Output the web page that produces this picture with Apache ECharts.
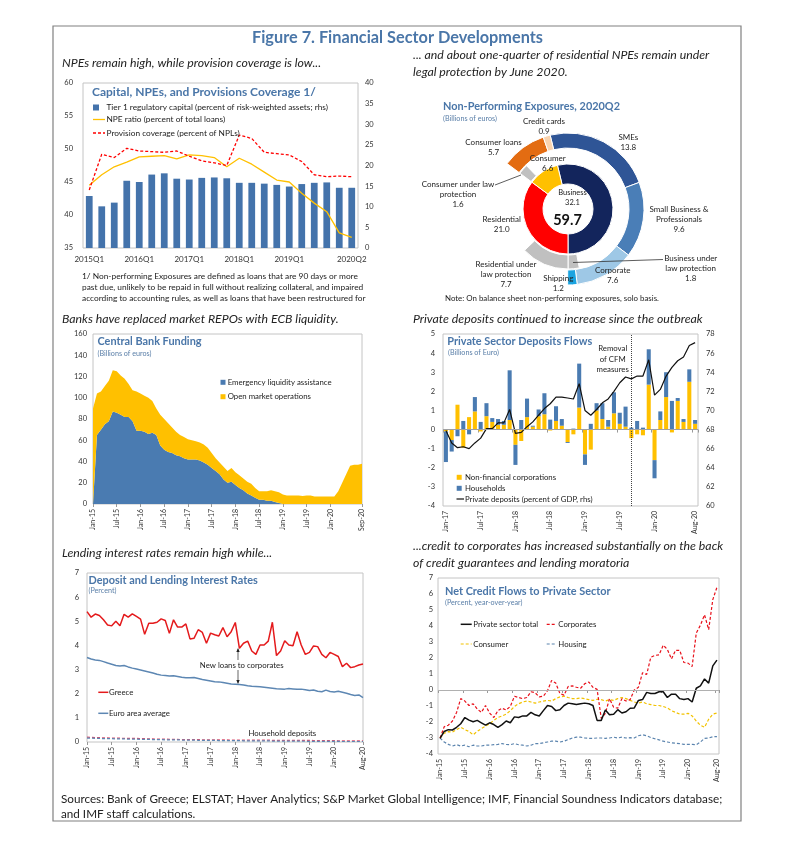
<!DOCTYPE html>
<html><head><meta charset="utf-8">
<script src="https://cdn.jsdelivr.net/npm/echarts/dist/echarts.min.js"></script>
<style>html,body{margin:0;padding:0;background:#fff}#c{width:791px;height:852px}</style>
</head><body><div id="c"></div>
<script>
// ---------- DATA ----------
const quarters = ['2015Q1','2015Q2','2015Q3','2015Q4','2016Q1','2016Q2','2016Q3','2016Q4','2017Q1','2017Q2','2017Q3','2017Q4','2018Q1','2018Q2','2018Q3','2018Q4','2019Q1','2019Q2','2019Q3','2019Q4','2020Q1','2020Q2'];
const quarterTickIdx = [0,4,8,12,16,21];
const tier1Capital = [12.6,10.1,11.0,16.3,16.0,17.8,18.1,16.8,16.6,17.0,17.1,16.9,15.8,15.8,15.6,15.3,14.9,15.5,15.8,15.9,14.6,14.6];
const npeRatio = [44.5,46.1,47.3,48.0,48.8,48.9,49.0,48.5,49.1,49.0,48.7,47.3,48.6,47.7,46.5,45.3,45.0,43.3,41.8,40.5,37.3,36.6];
const provisionCoverage = [43.8,49.2,48.7,50.1,49.7,49.6,49.5,49.7,48.9,48.2,47.9,47.5,52.1,51.6,49.5,49.3,49.1,48.1,46.1,45.8,45.9,45.8];

const npeInnerNames = ['Business','Residential','Consumer'];
const npeInnerValues = [32.1, 21.0, 6.6];
const npeTotal = 59.7;
const npeOuterNames = ['SMEs','Small Business &\nProfessionals','Corporate','Shipping','','Consumer loans','Credit cards'];
const npeOuterValues = [13.8, 9.6, 7.6, 1.2, 21.0, 5.7, 0.9];
const npeLawNames = ['Business under\nlaw protection','Residential under\nlaw protection','Consumer under law\nprotection'];
const npeLawValues = [1.8, 7.7, 1.6];

function monthLabels(y0, n){const m=['Jan','Feb','Mar','Apr','May','Jun','Jul','Aug','Sep','Oct','Nov','Dec'];const o=[];for(let i=0;i<n;i++){o.push(m[i%12]+'-'+String(y0+Math.floor(i/12)).padStart(2,'0'));}return o;}
const cbMonths = monthLabels(15, 69);
const cbTickIdx = [0,6,12,18,24,30,36,42,48,54,60,68];
const elaFunding = [0,65,70,75,78,87,86,84,82,82,78,69,69,68,66,67,65,55,51,49,48,46,45,43,42,42,42,41,39,37,34,31,28,23,20,21,18,15,13,10,8,6,4,4,3,3,2,1,0,0,0,0,0,0,0,0,0,0,0,0,0,0,0,0,0,0,0,0,0];
const omoFunding = [90,39,36,36,38,39,39,37,36,31,29,37,35,34,34,30,25,29,29,27,24,22,20,20,19,18,17,17,17,16,14,12,11,12,11,13,12,12,11,11,11,9,8,8,9,10,10,10,9,8,8,8,8,7.5,8,8,7,7,7,7,7,7,12,20,28,36,37,37,38];

const depMonths = monthLabels(17, 44);
const depTickIdx = [0,6,12,18,24,30,36,43];
const nfcFlows = [-0.1,-0.55,1.3,-0.95,0.65,0.95,-0.1,0.7,0.4,0.25,0.25,0.5,-0.8,-0.6,0.65,0.15,0.7,0.8,-0.05,0.45,0.2,-0.65,-0.25,1.15,-1.3,-1.05,1.0,0.55,0.15,0.85,0.3,0.15,-0.45,-0.25,-0.3,2.35,-1.6,0.5,1.7,-0.15,1.5,0.4,2.5,0.3];
const hhFlows = [-1.6,-0.6,-0.35,0.45,-0.25,0.75,0.4,0.68,0.2,0.3,0.2,2.6,-1.05,0.5,0.97,0.05,0.35,1.1,0.52,0.77,0.35,-0.05,0.05,2.3,-0.55,0.3,0.38,0.83,0.35,1.1,0.58,1.05,0.1,0.45,0.1,1.85,-0.95,0.45,1.3,1.5,0.15,0.15,0.65,0.2];
const depositsGDP = [67.9,66.6,66.1,66.2,66.0,66.6,67.1,68.1,68.1,68.7,68.7,70.1,67.6,67.7,68.3,68.8,69.5,70.2,70.7,71.4,71.4,71.3,71.2,72.8,70.0,69.5,70.1,70.8,71.2,72.0,72.9,73.5,73.3,73.6,73.6,75.3,71.6,72.2,73.6,74.5,75.2,75.6,76.8,77.1];
const cfmMonth = 'Sep-19';

const rateMonths = monthLabels(15, 68);
const rateTickIdx = [0,6,12,18,24,30,36,42,48,54,60,67];
const greeceLoans = [5.40,5.17,5.30,5.24,5.06,4.85,4.81,5.00,4.81,5.29,5.17,5.31,5.20,5.09,4.46,4.92,4.92,4.96,5.10,5.03,4.50,5.06,4.76,4.76,4.89,4.27,4.30,4.65,4.54,4.09,4.51,4.44,4.39,4.74,4.36,4.57,4.95,3.88,4.09,4.18,3.77,3.63,4.02,4.02,4.18,4.96,3.58,3.77,4.19,4.02,3.99,4.57,4.02,3.63,3.71,3.98,3.95,3.63,3.49,3.71,3.63,3.54,3.12,3.26,3.08,3.12,3.19,3.23];
const euroLoans = [3.50,3.44,3.40,3.38,3.33,3.27,3.22,3.17,3.15,3.17,3.11,3.06,3.02,2.98,2.94,2.90,2.86,2.81,2.77,2.75,2.73,2.74,2.71,2.68,2.66,2.66,2.67,2.63,2.59,2.56,2.53,2.50,2.49,2.46,2.43,2.40,2.39,2.38,2.36,2.33,2.31,2.30,2.29,2.27,2.25,2.23,2.21,2.20,2.19,2.22,2.20,2.18,2.19,2.16,2.13,2.15,2.10,2.08,2.15,2.09,2.07,2.10,2.06,2.02,1.97,1.93,1.95,1.84];
const greeceDeposits = [0.20,0.19,0.18,0.18,0.17,0.17,0.16,0.16,0.16,0.15,0.15,0.15,0.15,0.14,0.14,0.13,0.13,0.12,0.12,0.12,0.11,0.11,0.11,0.10,0.10,0.10,0.10,0.10,0.09,0.09,0.09,0.09,0.09,0.09,0.09,0.08,0.08,0.08,0.08,0.08,0.08,0.08,0.08,0.08,0.08,0.07,0.07,0.07,0.07,0.07,0.07,0.07,0.07,0.07,0.07,0.06,0.06,0.06,0.06,0.06,0.06,0.05,0.05,0.05,0.05,0.05,0.05,0.05];
const euroDeposits = [0.16,0.16,0.15,0.15,0.14,0.14,0.14,0.13,0.13,0.13,0.12,0.12,0.12,0.11,0.11,0.11,0.10,0.10,0.10,0.09,0.09,0.09,0.09,0.08,0.08,0.08,0.08,0.07,0.07,0.07,0.07,0.07,0.06,0.06,0.06,0.06,0.06,0.06,0.05,0.05,0.05,0.05,0.05,0.05,0.05,0.04,0.04,0.04,0.04,0.04,0.04,0.04,0.04,0.03,0.03,0.03,0.03,0.03,0.03,0.03,0.03,0.03,0.02,0.02,0.02,0.02,0.02,0.02];

const creditMonths = monthLabels(15, 68);
const creditTickIdx = [0,6,12,18,24,30,36,42,48,54,60,67];
const creditTotal = [-3.02,-2.59,-2.48,-2.50,-2.33,-2.11,-1.72,-1.88,-1.98,-1.90,-2.05,-2.20,-2.05,-2.16,-2.33,-2.16,-1.94,-2.05,-1.68,-1.72,-1.62,-1.62,-1.40,-1.55,-1.62,-1.29,-0.97,-1.03,-1.29,-1.23,-0.97,-0.82,-0.86,-0.91,-0.86,-0.82,-0.86,-0.97,-1.90,-1.90,-1.25,-1.55,-1.51,-1.23,-1.44,-1.36,-1.14,-1.12,-0.65,-0.60,-0.15,-0.22,-0.22,-0.11,-0.11,-0.47,-0.26,-0.26,-0.54,-0.60,-0.54,-0.75,0.11,0.26,0.69,0.43,1.51,1.87];
const creditCorporates = [-3.0,-2.3,-2.2,-1.94,-1.4,-0.54,-0.69,-0.97,-0.86,-1.19,-1.4,-0.97,-1.44,-1.72,-1.29,-1.14,-1.25,-1.03,-0.39,-0.47,-0.54,-0.47,-0.11,-0.17,-0.43,-0.39,-0.04,0.6,0.43,-0.22,-0.32,0.22,0.26,0.17,0.11,0.39,0.5,0.17,0.04,-1.77,-1.46,-0.54,-1.08,-1.14,-0.54,-0.69,-0.6,0.0,0.17,1.08,0.97,2.05,2.16,2.2,2.8,2.54,1.94,2.48,2.48,1.72,1.68,1.47,3.56,4.05,4.7,3.77,5.65,6.42];
const creditConsumer = [-3.0,-2.7,-2.6,-2.63,-2.48,-2.33,-2.48,-2.59,-2.8,-2.59,-2.41,-2.26,-2.11,-1.90,-1.72,-1.62,-1.51,-1.29,-1.03,-0.86,-0.75,-0.69,-0.75,-0.82,-0.75,-0.69,-0.65,-0.69,-0.54,-0.43,-0.39,-0.47,-0.54,-0.54,-0.5,-0.54,-0.6,-0.65,-0.58,-0.6,-0.69,-0.6,-0.65,-0.54,-0.47,-0.54,-0.65,-0.75,-0.82,-0.75,-0.86,-0.91,-0.97,-0.97,-1.03,-1.12,-1.29,-1.40,-1.51,-1.51,-1.46,-1.62,-1.94,-2.2,-2.33,-1.83,-1.51,-1.44];
const creditHousing = [-3.0,-3.25,-3.4,-3.5,-3.42,-3.5,-3.45,-3.55,-3.45,-3.5,-3.5,-3.45,-3.45,-3.42,-3.4,-3.35,-3.4,-3.42,-3.35,-3.42,-3.45,-3.5,-3.45,-3.35,-3.35,-3.3,-3.25,-3.2,-3.2,-3.25,-3.2,-3.1,-3.0,-2.95,-2.95,-3.0,-3.02,-3.02,-3.0,-3.0,-3.02,-3.0,-2.95,-3.0,-2.95,-3.0,-2.98,-3.0,-2.86,-2.8,-2.86,-2.97,-3.05,-3.12,-3.2,-3.25,-3.3,-3.33,-3.35,-3.4,-3.4,-3.4,-3.42,-3.25,-3.02,-3.0,-2.92,-2.92];

// ---------- STYLE ----------
const FONT = 'Lato, "Open Sans", sans-serif';
const BLUE_T = '#4a76a8';
const C_BAR = '#4473ab', C_YEL = '#ffc000', C_RED = '#ff0000', C_STEEL = '#4a7bb1';

function T(x, y, text, o) {
  o = o || {};
  const font = [(o.style||''), (o.weight||''), (o.size||8)+'px', FONT].join(' ').trim();
  return {type:'text', x:x, y:y, silent:true, z:100,
    style:{text:text, fill:o.color||'#222', font:font,
      textAlign:o.align||'left', align:o.align||'left',
      textVerticalAlign:'middle', verticalAlign:'middle', lineHeight:o.lh||10}};
}
function L(x1,y1,x2,y2,color,w,dash){return {type:'line', silent:true, z:100, shape:{x1,y1,x2,y2}, style:{stroke:color, lineWidth:w||1, lineDash:dash||null}};}
function R(x,y,w,h,fill){return {type:'rect', silent:true, z:100, shape:{x,y,width:w,height:h}, style:{fill}};}

const axisLab = {fontSize:7.5, color:'#333', fontFamily:FONT};
function catAxis(grid, data, ticks, gap, rot){
  const f = (i)=>ticks.indexOf(i)>=0;
  return {gridIndex:grid, type:'category', data:data, boundaryGap:gap,
    axisLine:{show:false},
    axisTick:{show:!!rot, interval:f, length:3, lineStyle:{color:'#999'}},
    axisLabel:Object.assign({}, axisLab, {interval:f, rotate:rot||0, margin:rot?5:7, fontSize:rot?7:8})};
}
function valAxis(grid, min, max, itv, pos, margin){
  return {gridIndex:grid, type:'value', min, max, interval:itv, position:pos||'left',
    axisLine:{show:false}, axisTick:{show:false}, splitLine:{show:false},
    axisLabel:Object.assign({}, axisLab, {margin:margin||8})};
}
const gridBox = {show:true, borderColor:'#c4c4c4', borderWidth:1, backgroundColor:'rgba(0,0,0,0)'};

// ---------- DONUT helpers ----------
const firstAngle = 90 + (npeInnerValues[0]/npeTotal*360 - 180);
const CEN = [568, 209];
const innerColors = ['#13255c', '#ff0000', '#ffc000'];
const outerColors = ['#2f5596', '#4a7eb7', '#9ec8e6', '#1aa3e0', null, '#e36c12', '#f9d3ae'];
const LAW_GRAY = '#c0c0c0';
const none = {color:'rgba(0,0,0,0)', borderWidth:0};
const innerData = npeInnerValues.map((v,i)=>({name:npeInnerNames[i], value:v, itemStyle:{color:innerColors[i]}}));
const outerData = npeOuterValues.map((v,i)=>({name:npeOuterNames[i]||'gap', value:v, itemStyle: outerColors[i] ? {color:outerColors[i]} : none}));
const lawData = [
  {name:'b-rest', value:npeInnerValues[0]-npeLawValues[0], itemStyle:none},
  {name:npeLawNames[0], value:npeLawValues[0], itemStyle:{color:LAW_GRAY}},
  {name:npeLawNames[1], value:npeLawValues[1], itemStyle:{color:LAW_GRAY}},
  {name:'r-rest', value:npeInnerValues[1]-npeLawValues[1], itemStyle:none},
  {name:npeLawNames[2], value:npeLawValues[2], itemStyle:{color:LAW_GRAY}},
  {name:'c-rest', value:npeInnerValues[2]-npeLawValues[2], itemStyle:none}
];
function pie(radius, data){
  return {type:'pie', center:CEN, radius:radius, startAngle:firstAngle, clockwise:true, silent:true,
    label:{show:false}, labelLine:{show:false}, emphasis:{disabled:true},
    itemStyle:{borderColor:'#fff', borderWidth:1}, data:data};
}
const innerPos = [[572.5,198],[501.7,224.2],[547.7,163.8]];
const outerPos = [[628.3,142.5],[679,219],[612.7,275.8],[558.3,283.8],null,[493.5,147],[544,126.2]];
const lawPos = [[690.7,268.3],[506,274],[458,194]];
const DS = 8;
const donutText = [];
npeInnerNames.forEach((n,i)=>donutText.push(T(innerPos[i][0], innerPos[i][1], n+'\n'+npeInnerValues[i].toFixed(1), {align:'center', size:(i===0?7.5:DS)})));
npeOuterNames.forEach((n,i)=>{ if(outerPos[i]) donutText.push(T(outerPos[i][0], outerPos[i][1], n+'\n'+npeOuterValues[i].toFixed(1), {align:'center', size:DS})); });
npeLawNames.forEach((n,i)=>donutText.push(T(lawPos[i][0], lawPos[i][1], n+'\n'+npeLawValues[i].toFixed(1), {align:'center', size:DS})));
donutText.push(T(567.5, 220, npeTotal.toFixed(1), {align:'center', size:14.5, weight:'bold', color:'#111'}));

// ---------- GRAPHIC TEXT ----------
const HS = 12.3, TS = 10.9;
const g = [
  {type:'rect', silent:true, z:0, shape:{x:53, y:26, width:688, height:795}, style:{fill:'none', stroke:'#808080', lineWidth:1.2}},
  T(397.5, 38, 'Figure 7. Financial Sector Developments', {align:'center', size:16.3, weight:'bold', color:BLUE_T}),
  T(62, 63, 'NPEs remain high, while provision coverage is low...', {style:'italic', size:HS}),
  T(413, 55, '... and about one-quarter of residential NPEs remain under', {style:'italic', size:HS}),
  T(413, 72, 'legal protection by June 2020.', {style:'italic', size:HS}),
  // panel 1
  T(92, 92.5, 'Capital, NPEs, and Provisions Coverage 1/', {weight:'bold', size:12, color:BLUE_T}),
  R(93, 104.5, 6, 6, C_BAR), T(106.5, 107.5, 'Tier 1 regulatory capital (percent of risk-weighted assets; rhs)', {size:8.3}),
  L(93, 119.5, 105, 119.5, C_YEL, 1.3), T(106.5, 119.5, 'NPE ratio (percent of total loans)', {size:8.3}),
  L(93, 133, 105, 133, C_RED, 1.3, [3,2]), T(106.5, 133, 'Provision coverage (percent of NPLs)', {size:8.3}),
  T(82, 276, '1/ Non-performing Exposures are defined as loans that are 90 days or more', {size:8.35}),
  T(82, 287, 'past due, unlikely to be repaid in full without realizing collateral, and impaired', {size:8.35}),
  T(82, 298, 'according to accounting rules, as well as loans that have been restructured for', {size:8.35}),
  // panel 2
  T(443, 106.5, 'Non-Performing Exposures, 2020Q2', {weight:'bold', size:TS, color:BLUE_T}),
  T(443, 119, '(Billions of euros)', {size:7.2, color:'#5a7fa8'}),
  L(495, 185, 521, 175, '#333', 0.8), L(573, 262.5, 663, 259.5, '#333', 0.8),
  T(445, 298.5, 'Note: On balance sheet non-performing exposures, solo basis.', {size:7.9}),
  // panel 3
  T(62, 319.5, 'Banks have replaced market REPOs with ECB liquidity.', {style:'italic', size:HS}),
  T(97.5, 341.5, 'Central Bank Funding', {weight:'bold', size:TS, color:BLUE_T}),
  T(97.5, 353.3, '(Billions of euros)', {size:7.2, color:'#5a7fa8'}),
  R(220.5, 379.8, 5, 5, C_STEEL), T(227.7, 382.3, 'Emergency liquidity assistance', {size:7.8}),
  R(220.5, 394.2, 5, 5, C_YEL), T(227.7, 396.7, 'Open market operations', {size:7.8}),
  // panel 4
  T(413, 319.5, 'Private deposits continued to increase since the outbreak', {style:'italic', size:HS}),
  T(447.3, 341.5, 'Private Sector Deposits Flows', {weight:'bold', size:TS, color:BLUE_T}),
  T(448, 352.5, '(Billions of Euro)', {size:7.2, color:'#5a7fa8'}),
  T(612.7, 359, 'Removal\nof CFM\nmeasures', {align:'center', size:7.8, lh:10.5}),
  R(456.7, 474.8, 5, 5, C_YEL), T(465, 477.3, 'Non-financial corporations', {size:7.8}),
  R(456.7, 485.8, 5, 5, C_STEEL), T(465, 488.3, 'Households', {size:7.8}),
  L(456.5, 499, 464, 499, '#111', 1.2), T(465, 499, 'Private deposits (percent of GDP, rhs)', {size:7.8}),
  // panel 5
  T(62, 553, 'Lending interest rates remain high while...', {style:'italic', size:HS}),
  T(88.5, 580, 'Deposit and Lending Interest Rates', {weight:'bold', size:TS, color:BLUE_T}),
  T(88.5, 591, '(Percent)', {size:7.2, color:'#5a7fa8'}),
  L(98.3, 692.3, 108.3, 692.3, '#e41a1c', 1.5), T(109, 692.3, 'Greece', {size:7.8}),
  L(98.3, 713.3, 108.3, 713.3, '#5d87b3', 1.5), T(109, 713.3, 'Euro area average', {size:7.8}),
  T(241.7, 665, 'New loans to corporates', {align:'center', size:7.8}),
  L(238, 660, 238, 649.5, '#222', 0.7), {type:'polygon', silent:true, z:100, shape:{points:[[238,648],[236.3,652],[239.7,652]]}, style:{fill:'#222'}},
  L(238, 670, 238, 682.5, '#222', 0.7), {type:'polygon', silent:true, z:100, shape:{points:[[238,684],[236.3,680],[239.7,680]]}, style:{fill:'#222'}},
  T(282.3, 733.3, 'Household deposits', {align:'center', size:7.8}),
  // panel 6
  T(413, 546, '...credit to corporates has increased substantially on the back', {style:'italic', size:HS}),
  T(413, 563, 'of credit guarantees and lending moratoria', {style:'italic', size:HS}),
  T(445, 591, 'Net Credit Flows to Private Sector', {weight:'bold', size:TS, color:BLUE_T}),
  T(445, 602.5, '(Percent, year-over-year)', {size:7.2, color:'#5a7fa8'}),
  L(460.7, 624.3, 471.7, 624.3, '#111', 1.5), T(473.3, 624.3, 'Private sector total', {size:7.8}),
  L(546.7, 624.3, 556.7, 624.3, '#e8101a', 1.2, [3,2]), T(558.3, 624.3, 'Corporates', {size:7.8}),
  L(460.7, 644, 471.7, 644, '#f2c200', 1.2, [3,2]), T(473.3, 644, 'Consumer', {size:7.8}),
  L(546.7, 644, 556.7, 644, '#5b84ae', 1.2, [3,2]), T(558.3, 644, 'Housing', {size:7.8}),
  // sources
  T(61, 799, 'Sources: Bank of Greece; ELSTAT; Haver Analytics; S&P Market Global Intelligence; IMF, Financial Soundness Indicators database;', {size:11.7}),
  T(61, 814, 'and IMF staff calculations.', {size:11.7})
].concat(donutText);

const line = (name, x, y, data, color, w, dash, extra) => Object.assign({type:'line', name, xAxisIndex:x, yAxisIndex:y, data, symbol:'none', silent:true,
  lineStyle:{color, width:w, type:dash||'solid'}, itemStyle:{color}}, extra||{});

const option = {
  animation:false,
  backgroundColor:'#fff',
  textStyle:{fontFamily:FONT},
  grid:[
    Object.assign({left:83, top:83, width:275, height:165}, gridBox),
    Object.assign({left:93, top:334, width:269, height:170}, gridBox),
    Object.assign({left:443, top:334, width:255, height:172}, gridBox),
    Object.assign({left:87, top:573, width:276, height:169}, gridBox),
    Object.assign({left:438, top:578, width:281, height:176}, gridBox)
  ],
  xAxis:[
    catAxis(0, quarters, quarterTickIdx, true, 0),
    catAxis(1, cbMonths, cbTickIdx, false, 90),
    catAxis(2, depMonths, depTickIdx, true, 90),
    catAxis(3, rateMonths, rateTickIdx, false, 90),
    catAxis(4, creditMonths, creditTickIdx, true, 90)
  ],
  yAxis:[
    valAxis(0, 35, 60, 5, 'left', 10),
    valAxis(0, 0, 40, 5, 'right', 7),
    valAxis(1, 0, 160, 20, 'left', 6),
    valAxis(2, -4, 5, 1, 'left', 8),
    valAxis(2, 60, 78, 2, 'right', 8),
    valAxis(3, 0, 7, 1, 'left', 8),
    valAxis(4, -4, 7, 1, 'left', 5)
  ],
  graphic:{elements:g},
  series:[
    {type:'bar', name:'Tier 1', xAxisIndex:0, yAxisIndex:1, data:tier1Capital, barWidth:'54%', silent:true, itemStyle:{color:C_BAR}},
    line('NPE ratio', 0, 0, npeRatio, C_YEL, 1.3),
    line('Provision coverage', 0, 0, provisionCoverage, C_RED, 1.3, [3,2]),
    pie([25,45], innerData),
    pie([46,60], lawData),
    pie([61,76], outerData),
    line('ELA', 1, 2, elaFunding, C_STEEL, 0, 'solid', {stack:'cb', areaStyle:{color:C_STEEL, opacity:1}}),
    line('OMO', 1, 2, omoFunding, C_YEL, 0, 'solid', {stack:'cb', areaStyle:{color:C_YEL, opacity:1}}),
    {type:'bar', name:'NFC', xAxisIndex:2, yAxisIndex:3, data:nfcFlows, stack:'dep', barCategoryGap:'30%', silent:true, itemStyle:{color:C_YEL},
      markLine:{silent:true, symbol:'none', label:{show:false}, lineStyle:{color:'#444', type:'dotted', width:1}, data:[{xAxis:cfmMonth}]}},
    {type:'bar', name:'Households', xAxisIndex:2, yAxisIndex:3, data:hhFlows, stack:'dep', silent:true, itemStyle:{color:C_STEEL},
      markLine:{silent:true, symbol:'none', label:{show:false}, lineStyle:{color:'#a0a0a0', type:'solid', width:1}, data:[{yAxis:0}]}},
    line('Private deposits', 2, 4, depositsGDP, '#111', 1.2),
    line('Greece deposits', 3, 5, greeceDeposits, '#d9506e', 1.2, [3,2]),
    line('Euro deposits', 3, 5, euroDeposits, '#5d87b3', 1.2, [3,2]),
    line('Euro area average', 3, 5, euroLoans, '#5d87b3', 1.5),
    line('Greece', 3, 5, greeceLoans, '#e41a1c', 1.5),
    line('Housing', 4, 6, creditHousing, '#5b84ae', 1.2, [3,2], {markLine:{silent:true, symbol:'none', label:{show:false}, lineStyle:{color:'#b0b0b0', type:'solid', width:1}, data:[{yAxis:0}]}}),
    line('Consumer', 4, 6, creditConsumer, '#f2c200', 1.2, [3,2]),
    line('Corporates', 4, 6, creditCorporates, '#e8101a', 1.2, [3,2]),
    line('Private sector total', 4, 6, creditTotal, '#111', 1.5)
  ]
};
const chart = echarts.init(document.getElementById('c'), null, {renderer:'canvas'});
chart.setOption(option);
</script></body></html>
